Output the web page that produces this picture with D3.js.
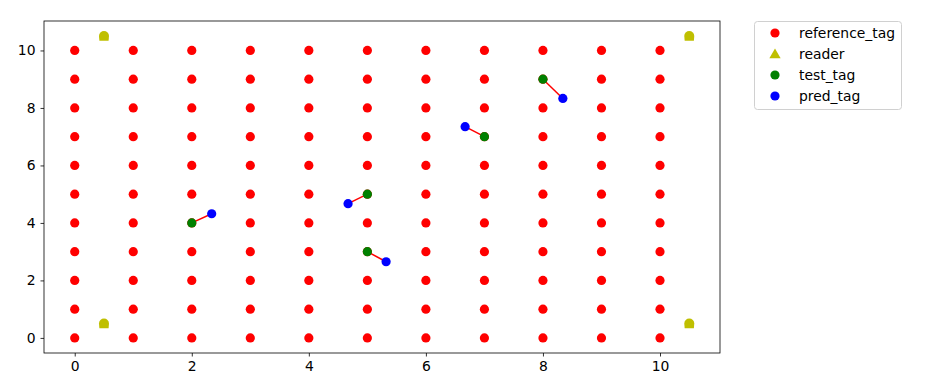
<!DOCTYPE html>
<html>
<head>
<meta charset="utf-8">
<script src="https://cdn.jsdelivr.net/npm/d3@7"></script>
<style>
  body { margin: 0; background: #fff; }
  text { font-family: "DejaVu Sans", sans-serif; }
</style>
</head>
<body>
<svg id="chart" width="925" height="387"></svg>
<script>
// reference grid 0..10 x 0..10
var gridValues = [0, 1, 2, 3, 4, 5, 6, 7, 8, 9, 10];
var readers = [[0.5, 0.5], [0.5, 10.5], [10.5, 0.5], [10.5, 10.5]];
var testTags = [[2, 4], [5, 5], [5, 3], [7, 7], [8, 9]];
var predTags = [[2.34, 4.32], [4.67, 4.67], [5.32, 2.65], [6.67, 7.35], [8.34, 8.33]];
var ticks = [0, 2, 4, 6, 8, 10];
var legendLabels = ["reference_tag", "reader", "test_tag", "pred_tag"];

var refTags = [];
gridValues.forEach(function(i) {
  gridValues.forEach(function(j) { refTags.push([i, j]); });
});

var svg = d3.select("#chart"),
    margin = {left: 44, top: 21, right: 205, bottom: 34},
    width = 925 - margin.left - margin.right,
    height = 387 - margin.top - margin.bottom;

var x = d3.scaleLinear().domain([-0.525, 11.025]).range([0, width]);
var y = d3.scaleLinear().domain([-0.525, 11.025]).range([height, 0]);

var g = svg.append("g")
    .attr("transform", "translate(" + margin.left + "," + margin.top + ")");

// red reference dots
g.selectAll(".ref")
  .data(refTags)
  .enter().append("circle")
    .attr("cx", function(d) { return x(d[0]); })
    .attr("cy", function(d) { return y(d[1]); })
    .attr("r", 4.6)
    .attr("fill", "#ff0000");

// readers: round-topped marker with flat base
g.selectAll(".reader")
  .data(readers)
  .enter().append("path")
    .attr("transform", function(d) { return "translate(" + x(d[0]) + "," + y(d[1]) + ")"; })
    .attr("d", "M-4.6,4.6 L-5,0 A5,5 0 0 1 5,0 L4.6,4.6 Z")
    .attr("fill", "#bfbf00");

// red connecting lines
g.selectAll(".link")
  .data(testTags)
  .enter().append("line")
    .attr("x1", function(d) { return x(d[0]); })
    .attr("y1", function(d) { return y(d[1]); })
    .attr("x2", function(d, i) { return x(predTags[i][0]); })
    .attr("y2", function(d, i) { return y(predTags[i][1]); })
    .attr("stroke", "#ff0000")
    .attr("stroke-width", 1.5);

g.selectAll(".test")
  .data(testTags)
  .enter().append("circle")
    .attr("cx", function(d) { return x(d[0]); })
    .attr("cy", function(d) { return y(d[1]); })
    .attr("r", 4.6)
    .attr("fill", "#008000");

g.selectAll(".pred")
  .data(predTags)
  .enter().append("circle")
    .attr("cx", function(d) { return x(d[0]); })
    .attr("cy", function(d) { return y(d[1]); })
    .attr("r", 4.6)
    .attr("fill", "#0000ff");

// axes
var xAxis = g.append("g")
    .attr("transform", "translate(0," + height + ")")
    .call(d3.axisBottom(x).tickValues(ticks).tickSize(3.5).tickPadding(5).tickSizeOuter(0));
var yAxis = g.append("g")
    .call(d3.axisLeft(y).tickValues(ticks).tickSize(3.5).tickPadding(5).tickSizeOuter(0));
[xAxis, yAxis].forEach(function(a) {
  a.select(".domain").remove();
  a.selectAll("text").attr("font-size", "13.9px").attr("font-family", "DejaVu Sans").attr("fill", "#000");
  a.selectAll("line").attr("stroke", "#000").attr("stroke-width", 0.8);
});

g.append("rect")
    .attr("x", 0).attr("y", 0)
    .attr("width", width).attr("height", height)
    .attr("fill", "none")
    .attr("stroke", "#000")
    .attr("stroke-width", 0.8);

// legend
var legend = svg.append("g").attr("transform", "translate(754,21)");
legend.append("rect")
    .attr("x", 0.5).attr("y", 0.5)
    .attr("width", 147).attr("height", 88)
    .attr("rx", 3)
    .attr("fill", "#fff")
    .attr("stroke", "#d0d0d0");

var legendColors = ["#ff0000", "#bfbf00", "#008000", "#0000ff"];
legendLabels.forEach(function(label, i) {
  var row = legend.append("g").attr("transform", "translate(0," + (12 + i * 21) + ")");
  if (i === 1) {
    row.append("path")
      .attr("transform", "translate(21,1)")
      .attr("d", d3.symbol().type(d3.symbolTriangle).size(55))
      .attr("fill", legendColors[i]);
  } else {
    row.append("circle")
      .attr("cx", 21).attr("cy", 0).attr("r", 4.6)
      .attr("fill", legendColors[i]);
  }
  row.append("text")
    .attr("x", 45).attr("y", 5)
    .attr("font-size", "13.9px")
    .text(label);
});
</script>
</body>
</html>
